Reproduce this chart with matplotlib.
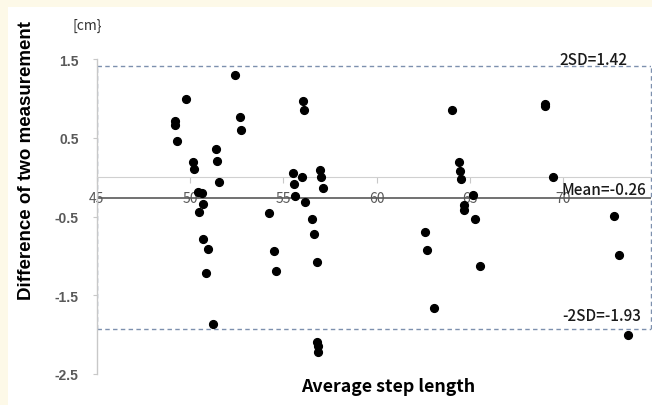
import matplotlib.pyplot as plt
import matplotlib.patches as patches

avg_len = [49.21, 49.21, 49.32, 49.81, 50.18, 50.24, 50.44, 50.66, 50.72, 50.49,
           50.68, 50.99, 50.88, 51.23, 51.37, 51.44, 51.57, 52.41, 52.66, 52.73,
           54.24, 54.51, 54.63, 55.50, 55.57, 56.02, 55.65, 56.18, 56.07, 56.10,
           56.55, 56.64, 56.82, 56.99, 57.03, 57.11, 56.82, 56.85, 56.87,
           62.60, 62.70, 63.07, 64.06, 64.41, 64.46, 64.50, 64.67, 64.70, 65.14,
           65.25, 65.56, 69.01, 69.04, 69.47, 72.71, 72.96, 73.47]
diff = [0.71, 0.67, 0.46, 0.99, 0.19, 0.11, -0.19, -0.20, -0.34, -0.44,
        -0.78, -0.91, -1.21, -1.86, 0.36, 0.21, -0.06, 1.30, 0.77, 0.60,
        -0.45, -0.94, -1.19, 0.05, -0.09, 0.00, -0.24, -0.32, 0.97, 0.86,
        -0.53, -0.72, -1.08, 0.09, 0.00, -0.14, -2.09, -2.15, -2.22,
        -0.70, -0.92, -1.66, 0.85, 0.20, 0.08, -0.02, -0.35, -0.42, -0.22,
        -0.53, -1.13, 0.93, 0.91, 0.00, -0.49, -0.99, -2.01]

mean_diff = -0.26
upper_sd = 1.42
lower_sd = -1.93
x_ticks = [45, 50, 55, 60, 65, 70]
y_ticks = [1.5, 0.5, -0.5, -1.5, -2.5]

W, H = 652, 406
fig = plt.figure(figsize=(W / 100, H / 100), dpi=100, facecolor='#FDF9E8')
# white panel over the cream background
fig.patches.append(patches.Rectangle((8 / W, 0), 1 - 8 / W, 1 - 8 / H,
                                     transform=fig.transFigure, facecolor='white',
                                     edgecolor='none', zorder=-5))

ax = fig.add_axes([96.7 / W, (H - 375) / H, (651 - 96.7) / W, (375 - 60.3) / H])
ax.set_facecolor('none')
ax.set_xlim(45, 74.7)
ax.set_ylim(-2.5, 1.5)

for s in ['top', 'right']:
    ax.spines[s].set_visible(False)
ax.spines['bottom'].set_position(('data', 0))
ax.spines['bottom'].set_color('#D0D0D0')
ax.spines['left'].set_color('#C8C8C8')
ax.spines['left'].set_linewidth(1.0)

ax.set_xticks(x_ticks)
ax.set_yticks(y_ticks)
ax.set_yticklabels([str(v) for v in y_ticks])
ax.tick_params(axis='x', direction='out', length=4, width=0.8, color='#C8C8C8',
               labelsize=10, labelcolor='#595959', pad=6)
ax.tick_params(axis='y', direction='out', length=3, width=0.8, color='#C8C8C8',
               labelsize=10, labelcolor='#595959', pad=10)
for lab in ax.get_yticklabels():
    lab.set_fontweight('bold')
    lab.set_family('Liberation Sans')
for lab in ax.get_xticklabels():
    lab.set_family('Noto Sans CJK JP')

# limits of agreement box and mean line
dash_col = '#7D90AE'
dash = (0, (3.2, 2.4))
ax.axhline(upper_sd, color=dash_col, lw=1.0, ls=dash, zorder=1)
ax.axhline(lower_sd, color=dash_col, lw=1.0, ls=dash, zorder=1)
ax.plot([45, 45], [lower_sd, upper_sd], color=dash_col, lw=1.0, ls=dash, zorder=1)
ax.plot([74.7, 74.7], [lower_sd, upper_sd], color=dash_col, lw=1.0, ls=dash,
        zorder=1, clip_on=False)
ax.axhline(mean_diff, color='#595959', lw=1.2, zorder=2)

ax.plot(avg_len, diff, 'o', color='black', markersize=5.6, zorder=3, clip_on=False)

txt = dict(family='Noto Sans CJK JP', fontsize=11, fontweight='medium', color='#1A1A1A',
           ha='right', va='center')
ax.text(73.45, 1.50, '2SD=1.42', **txt)
ax.text(74.45, -0.15, 'Mean=-0.26', **txt)
ax.text(74.15, -1.76, '-2SD=-1.93', **txt)

fig.text(27 / W, 1 - 161 / H, 'Difference of two measurement', rotation=90,
         ha='center', va='center', fontsize=13.5, fontweight='bold',
         family='Liberation Sans')
fig.text(388 / W, 1 - 387 / H, 'Average step length', ha='center', va='center',
         fontsize=12.8, fontweight='bold', family='Noto Sans CJK JP')
fig.text(72 / W, 1 - 26 / H, '[cm}', ha='left', va='center', fontsize=10,
         color='#333333', family='Noto Sans CJK JP')

fig.savefig('out.png', dpi=100, facecolor=fig.get_facecolor())
